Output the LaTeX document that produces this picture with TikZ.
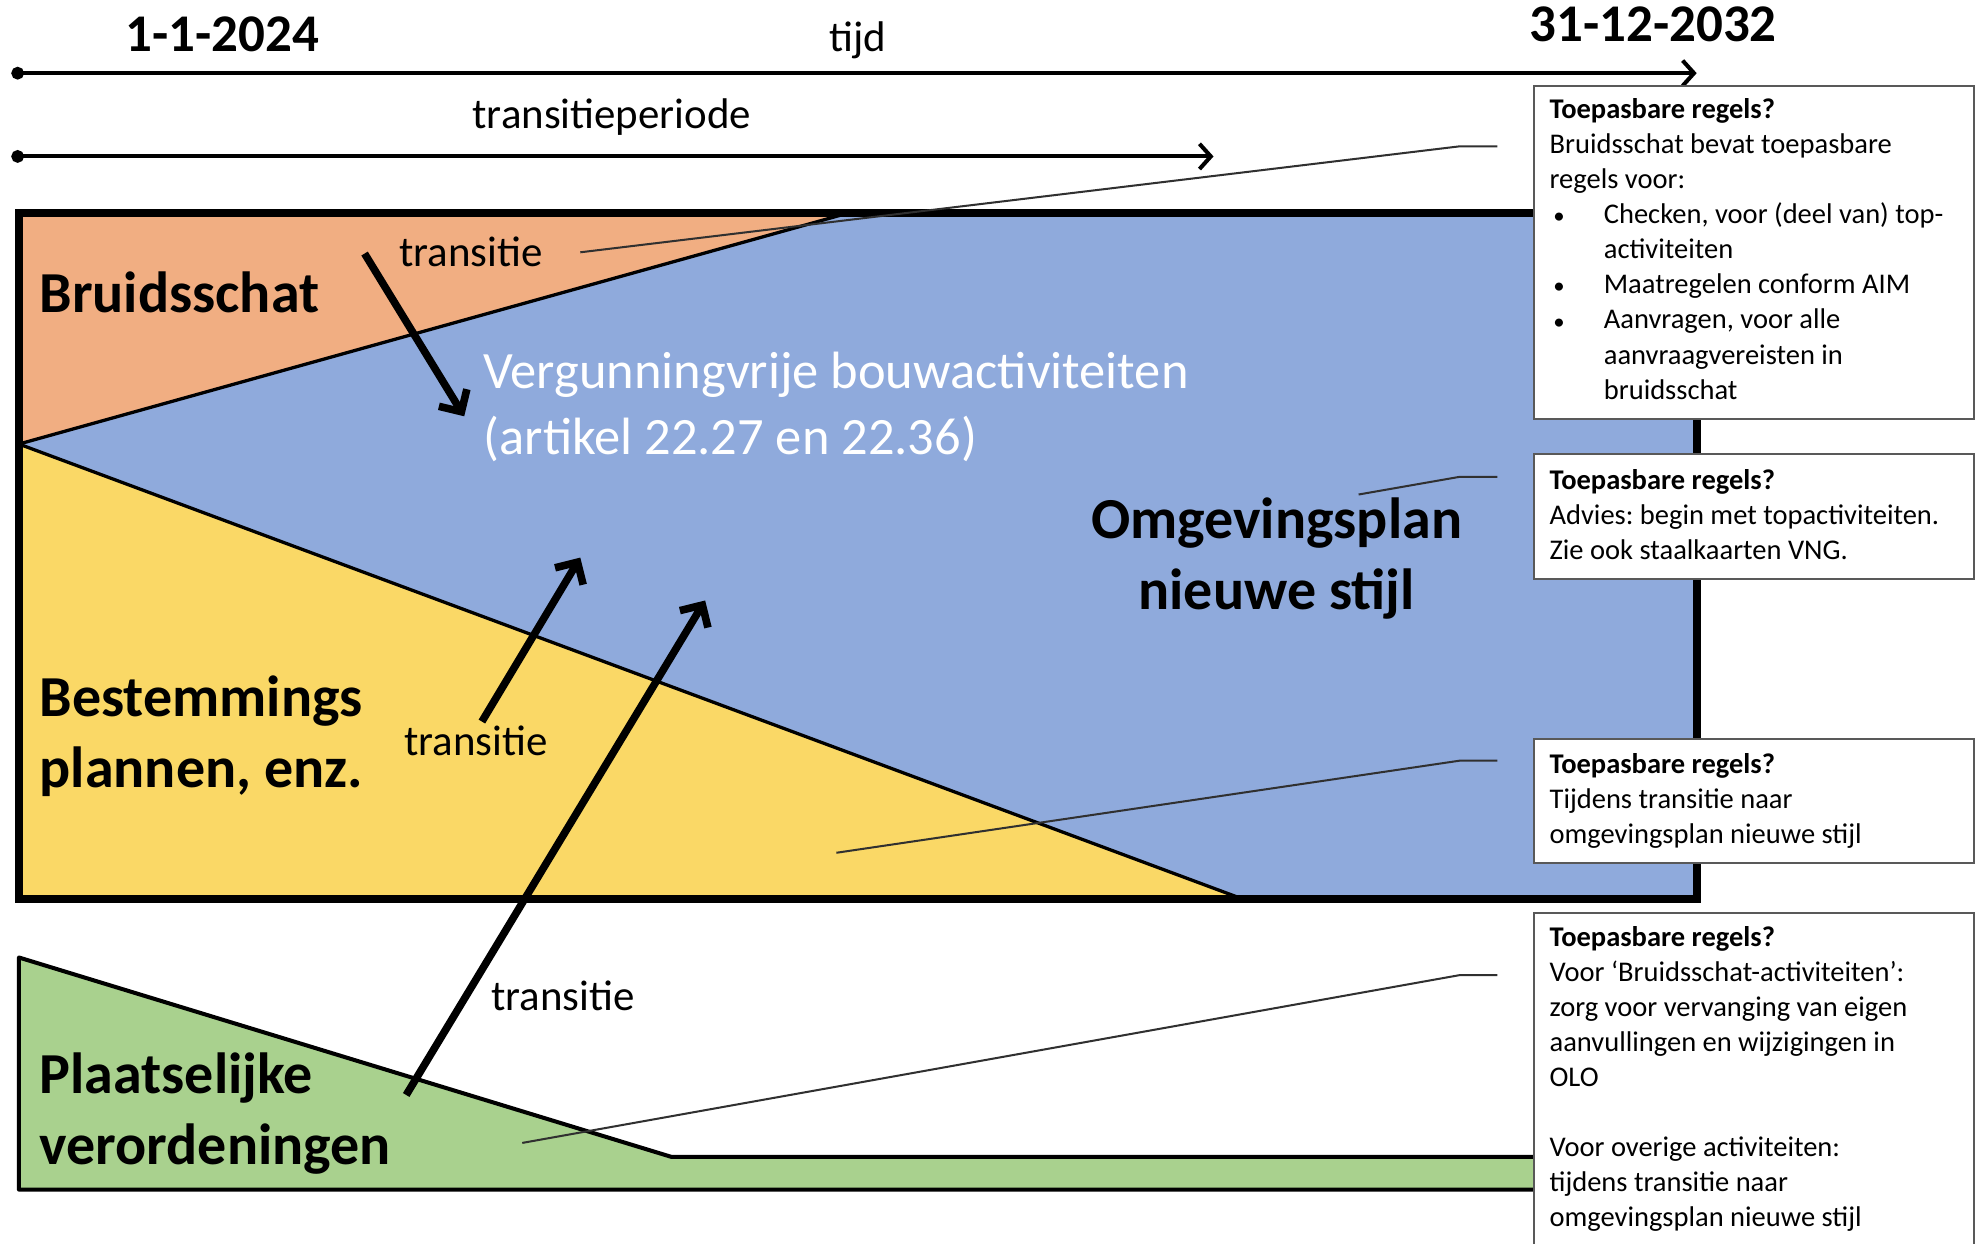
\documentclass[tikz,border=0pt]{standalone}
\usepackage{fontspec}
\setmainfont{Carlito}
\usetikzlibrary{arrows.meta}
\definecolor{cOrange}{HTML}{F1AE82}
\definecolor{cBlue}{HTML}{8FAADC}
\definecolor{cYellow}{HTML}{FAD866}
\definecolor{cGreen}{HTML}{A9D18E}
\definecolor{cLead}{HTML}{303030}
\newcommand{\bigfont}{\fontsize{23}{28}\selectfont\bfseries}
\newcommand{\midfont}{\fontsize{17}{20}\selectfont}
\newcommand{\datefont}{\fontsize{21}{25}\selectfont\bfseries}
\newcommand{\boxfont}{\fontsize{11.3}{13.9}\selectfont}
\newcommand{\vergfont}{\fontsize{20.8}{26}\selectfont}
\newcommand{\itm}{\makebox[21.5pt][l]{\hspace{1.5pt}\scalebox{0.8}{•}}}
\newcommand{\ind}{\hspace*{21.5pt}}
\frenchspacing
\begin{document}
\begin{tikzpicture}[x=0.5pt,y=-0.5pt,
  lbl/.style={inner sep=0pt, anchor=base west},
  infobox/.style={draw=black!65, line width=0.8pt, fill=white, rectangle, inner sep=0pt, anchor=north west},
  leader/.style={draw=cLead, line width=0.8pt, line join=round},
  bigarrow/.style={line width=3pt, -{Straight Barb[length=6.5pt,width=13pt]}},
  timeline/.style={line width=1.6pt, {Circle[length=5pt]}-{Straight Barb[length=4.5pt,width=10pt]}},
  bound/.style={line width=1.3pt, line join=round}]

\useasboundingbox (0,0) rectangle (1568,986);

% main area
\coordinate (TL) at (15,169);
\coordinate (TR) at (1345,169);
\coordinate (BR) at (1345,713);
\coordinate (BL) at (15,713);
\coordinate (M) at (15,352);
\coordinate (OT) at (672,169);
\coordinate (YB) at (986,713);

\fill[cBlue] (TL) rectangle (BR);
\fill[cOrange] (TL) -- (OT) -- (M) -- cycle;
\fill[cYellow] (M) -- (YB) -- (BL) -- cycle;
\draw[bound] (M) -- (OT);
\draw[bound] (M) -- (YB);
\draw[line width=3.2pt] (TL) rectangle (BR);

% green area
\coordinate (G1) at (15,759);
\coordinate (G2) at (532,917);
\coordinate (G3) at (1345,917);
\coordinate (G4) at (1345,943);
\coordinate (G5) at (15,943);
\fill[cGreen] (G1) -- (G2) -- (G3) -- (G4) -- (G5) -- cycle;
\draw[line width=1.6pt, line join=round] (G3) -- (G2) -- (G1) -- (G5) -- (G4);

% timelines
\coordinate (T0) at (9,58);
\coordinate (T1) at (1345,58);
\coordinate (P0) at (9,124);
\coordinate (P1) at (962,124);
\draw[timeline] (T0) -- (T1);
\draw[timeline] (P0) -- (P1);

\node[lbl, font=\datefont] (d1) at (99,41) {1-1-2024};
\node[lbl, font=\datefont] (d2) at (1212,33) {31-12-2032};
\node[inner sep=0pt, anchor=base, font=\midfont] (tijd) at (680,41) {tijd};
\node[inner sep=0pt, anchor=base, font=\midfont] (tp) at (485,102) {transitieperiode};

% leader lines
\coordinate (L1a) at (460,200); \coordinate (L1b) at (1157,116); \coordinate (L1c) at (1187,116);
\coordinate (L2a) at (1077,392); \coordinate (L2b) at (1157,378); \coordinate (L2c) at (1187,378);
\coordinate (L3a) at (663,676); \coordinate (L3b) at (1157,603); \coordinate (L3c) at (1187,603);
\coordinate (L4a) at (414,906); \coordinate (L4b) at (1157,773); \coordinate (L4c) at (1187,773);
\draw[leader] (L1a) -- (L1b) -- (L1c);
\draw[leader] (L2a) -- (L2b) -- (L2c);
\draw[leader] (L3a) -- (L3b) -- (L3c);
\draw[leader] (L4a) -- (L4b) -- (L4c);

% transition arrows
\coordinate (A1s) at (289,201); \coordinate (A1e) at (368,330);
\coordinate (A2s) at (382,572); \coordinate (A2e) at (460,442);
\coordinate (A3s) at (322,868); \coordinate (A3e) at (559,476);
\draw[bigarrow] (A1s) -- (A1e);
\draw[bigarrow] (A2s) -- (A2e);
\draw[bigarrow] (A3s) -- (A3e);

\node[lbl, font=\midfont] (tr1) at (316,211) {transitie};
\node[lbl, font=\midfont] (tr2) at (320,599) {transitie};
\node[lbl, font=\midfont] (tr3) at (389,801) {transitie};

% big labels
\node[lbl, font=\bigfont] (bruid) at (31,248) {Bruidsschat};
\node[lbl, font=\bigfont] (best) at (31,568) {\begin{tabular}[t]{@{}l@{}}Bestemmings\\plannen, enz.\end{tabular}};
\node[lbl, font=\bigfont] (plaat) at (31,867) {\begin{tabular}[t]{@{}l@{}}Plaatselijke\\verordeningen\end{tabular}};
\node[inner sep=0pt, anchor=base, font=\bigfont] (omg) at (1012,427) {\begin{tabular}[t]{@{}c@{}}Omgevingsplan\\nieuwe stijl\end{tabular}};
\node[lbl, font=\vergfont, text=white] (verg) at (383,308) {\begin{tabular}[t]{@{}l@{}}Vergunningvrije bouwactiviteiten\\(artikel 22.27 en 22.36)\end{tabular}};

% info boxes
\node[infobox, minimum width=174.5pt, minimum height=132pt] (b1) at (1215,67) {};
\node[infobox, minimum width=174.5pt, minimum height=49.5pt] (b2) at (1215,359) {};
\node[infobox, minimum width=174.5pt, minimum height=49pt] (b3) at (1215,585) {};
\node[infobox, minimum width=174.5pt, minimum height=150pt] (b4) at (1215,723) {};

\node[lbl, font=\boxfont] (b1t) at (1228,94) {\begin{tabular}[t]{@{}l@{}}\textbf{Toepasbare regels?}\\
Bruidsschat bevat toepasbare\\
regels voor:\\
\itm Checken, voor (deel van) top-\\
\ind activiteiten\\
\itm Maatregelen conform AIM\\
\itm Aanvragen, voor alle\\
\ind aanvraagvereisten in\\
\ind bruidsschat\end{tabular}};
\node[lbl, font=\boxfont] (b2t) at (1228,388) {\begin{tabular}[t]{@{}l@{}}\textbf{Toepasbare regels?}\\
Advies: begin met topactiviteiten.\\
Zie ook staalkaarten VNG.\end{tabular}};
\node[lbl, font=\boxfont] (b3t) at (1228,613) {\begin{tabular}[t]{@{}l@{}}\textbf{Toepasbare regels?}\\
Tijdens transitie naar\\
omgevingsplan nieuwe stijl\end{tabular}};
\node[lbl, font=\boxfont] (b4t) at (1228,750) {\begin{tabular}[t]{@{}l@{}}\textbf{Toepasbare regels?}\\
Voor ‘Bruidsschat-activiteiten’:\\
zorg voor vervanging van eigen\\
aanvullingen en wijzigingen in\\
OLO\\
\\
Voor overige activiteiten:\\
tijdens transitie naar\\
omgevingsplan nieuwe stijl\end{tabular}};
\end{tikzpicture}
\end{document}
